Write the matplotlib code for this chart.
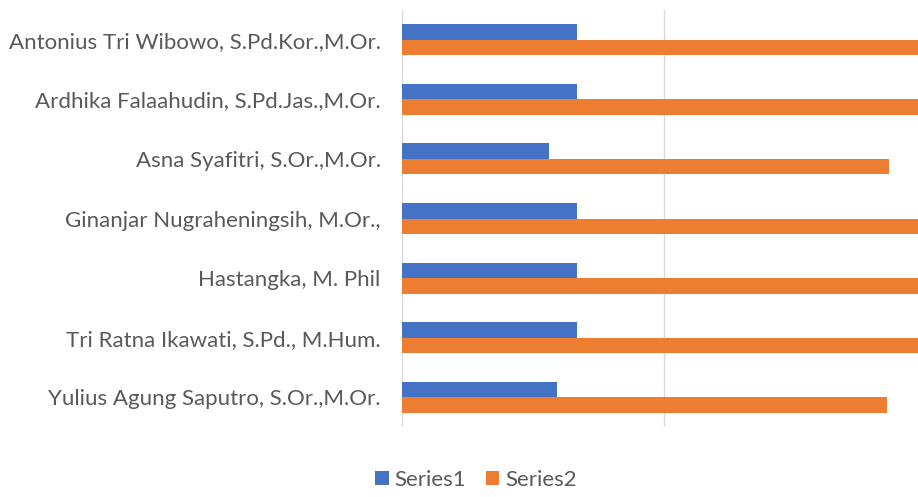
import matplotlib.pyplot as plt
import numpy as np

names = [
    "Antonius Tri Wibowo, S.Pd.Kor.,M.Or.",
    "Ardhika Falaahudin, S.Pd.Jas.,M.Or.",
    "Asna Syafitri, S.Or.,M.Or.",
    "Ginanjar Nugraheningsih, M.Or.,",
    "Hastangka, M. Phil",
    "Tri Ratna Ikawati, S.Pd., M.Hum.",
    "Yulius Agung Saputro, S.Or.,M.Or.",
]
series1 = [33.4, 33.4, 28.1, 33.4, 33.4, 33.4, 29.6]
series2 = [100, 100, 93.1, 100, 100, 100, 92.6]

plt.rcParams['font.family'] = ['Lato', 'DejaVu Sans']

fig = plt.figure(figsize=(9.18, 4.97), dpi=100)
ax = fig.add_axes([401.5 / 918, 1 - 427 / 497, 1 - 401.5 / 918, 417 / 497])

y = np.arange(len(names))
h = 0.26
ax.barh(y - h / 2, series1, h, color='#4472c4', label='Series1', zorder=3)
ax.barh(y + h / 2, series2, h, color='#ed7d31', label='Series2', zorder=3)

ax.set_ylim(len(names) - 0.5, -0.5)
ax.set_xlim(0, (918 - 401.5) / 262 * 50)
ax.set_yticks(y)
ax.set_yticklabels(names, fontsize=16, color='#595959')
ax.set_xticks([0, 50])
ax.set_xticklabels([])
ax.tick_params(length=0, pad=15)
ax.grid(axis='x', color='#d9d9d9', linewidth=1, zorder=0)
for s in ['top', 'right', 'bottom', 'left']:
    ax.spines[s].set_visible(False)

fig.legend(loc='center', bbox_to_anchor=(476 / 918, 1 - 480 / 497), ncol=2,
           frameon=False, fontsize=16, labelcolor='#595959',
           handlelength=0.6, handleheight=0.6, handletextpad=0.25, columnspacing=0.9)

fig.savefig('out.png', dpi=100)
